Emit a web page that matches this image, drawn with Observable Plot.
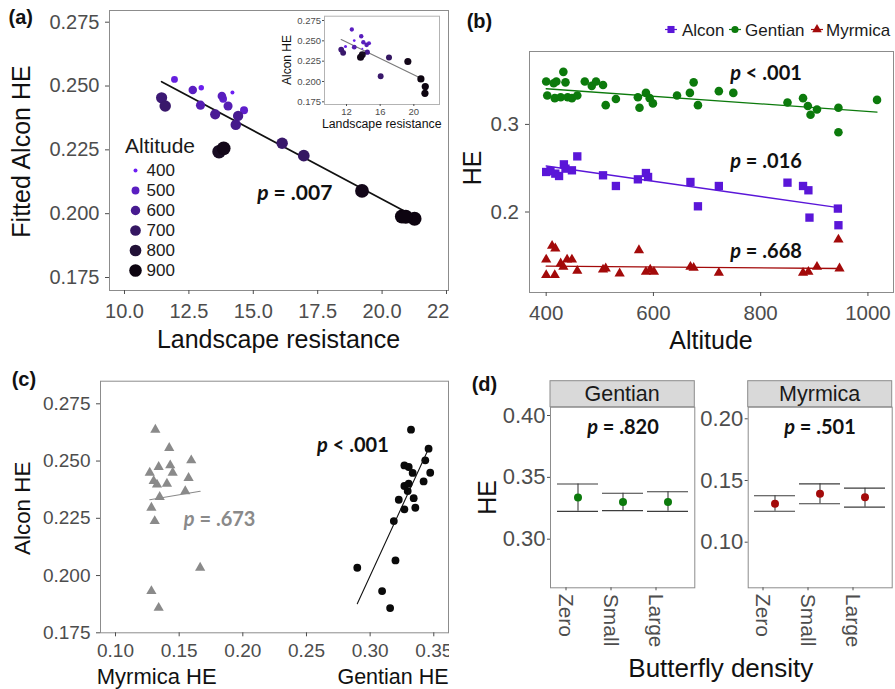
<!DOCTYPE html>
<html><head><meta charset="utf-8">
<script src="https://cdn.jsdelivr.net/npm/d3@7"></script>
<script src="https://cdn.jsdelivr.net/npm/@observablehq/plot@0.6"></script>
<style>
body{margin:0;background:#fff;}
#fig{position:relative;width:895px;height:689px;overflow:hidden;background:#fff;}
</style></head><body><div id="fig"></div>
<script>
// ---------- Panel (a): fitted Alcon HE vs landscape resistance ----------
const resistA = [11.44, 11.58, 11.94, 12.65, 12.98, 12.95, 13.52, 13.78, 13.83, 14.19, 14.02, 14.64, 14.41, 14.32, 13.67, 13.85, 16.12, 16.96, 19.22, 20.77, 20.92, 21.26];
const fittedA = [0.2454, 0.2422, 0.2526, 0.2484, 0.2493, 0.2425, 0.2389, 0.2461, 0.2450, 0.2475, 0.2422, 0.2405, 0.2383, 0.2348, 0.2243, 0.2256, 0.2276, 0.2227, 0.2089, 0.1989, 0.1988, 0.1980];
const altA = [660, 680, 440, 500, 410, 530, 590, 505, 470, 400, 530, 480, 600, 610, 850, 880, 680, 700, 880, 945, 945, 940];
const fitAx = [11.44, 21.26], fitAy = [0.2517, 0.1989];
const xTicksA = [10, 12.5, 15, 17.5, 20, 22.5];
const yTicksA = [0.175, 0.2, 0.225, 0.25, 0.275];
const legendAlts = [400, 500, 600, 700, 800, 900];
const pTextA = ["p = .007"], pXA = [16.61], pYA = [0.2081];

// inset: raw Alcon HE vs landscape resistance
const resistIn = [12.63, 13.75, 12.92, 11.88, 11.37, 11.60, 12.92, 14.00, 14.39, 14.67, 13.88, 14.47, 13.88, 13.67, 17.05, 16.06, 19.29, 20.84, 21.36, 21.32];
const heIn = [0.2639, 0.2557, 0.2504, 0.2430, 0.2393, 0.2352, 0.2422, 0.2483, 0.2451, 0.2471, 0.2402, 0.2360, 0.2328, 0.2299, 0.2294, 0.2064, 0.2245, 0.2032, 0.1937, 0.1855];
const altIn = [500, 510, 410, 420, 650, 680, 540, 505, 530, 480, 400, 600, 850, 880, 700, 680, 880, 945, 945, 940];
const fitInx = [11.37, 20.84], fitIny = [0.2516, 0.2040];
const xTicksIn = [12, 16, 20];
const yTicksIn = [0.175, 0.2, 0.225, 0.25, 0.275];

// ---------- Panel (b): HE vs altitude ----------
const seriesB = ["Alcon", "Gentian", "Myrmica"];
const gentAlt = [400,402,414,416,419,427,432,436,440,448,458,472,485,493,506,511,530,571,574,586,593,599,644,668,675,683,722,749,850,879,888,893,905,945,945,1017];
const gentHE = [0.349,0.333,0.347,0.330,0.349,0.331,0.360,0.348,0.331,0.330,0.333,0.349,0.344,0.349,0.345,0.322,0.329,0.331,0.319,0.336,0.330,0.324,0.333,0.336,0.348,0.322,0.338,0.336,0.325,0.330,0.321,0.311,0.317,0.319,0.291,0.328];
const alconAlt = [400,408,417,424,433,436,448,458,506,530,571,586,590,669,683,722,850,879,889,891,944,945];
const alconHE = [0.2457,0.2468,0.2438,0.2411,0.2544,0.2495,0.2476,0.2635,0.2419,0.2297,0.2373,0.2445,0.2400,0.2343,0.2065,0.2297,0.2335,0.2297,0.2248,0.1936,0.2039,0.1849];
const myrAlt = [400,400,411,417,416,427,432,439,448,458,506,511,537,573,586,594,601,669,675,722,879,889,905,945,947];
const myrHE = [0.1457,0.1279,0.1613,0.1583,0.1279,0.1412,0.1374,0.1457,0.1457,0.1328,0.1343,0.1355,0.1298,0.1564,0.1317,0.1343,0.1317,0.1374,0.1362,0.1305,0.1305,0.1317,0.1374,0.1685,0.1355];
const fitGx = [400, 1017], fitGy = [0.3407, 0.3141];
const fitAlx = [400, 945], fitAly = [0.2525, 0.2050];
const fitMx = [400, 945], fitMy = [0.1381, 0.1355];
const xTicksB = [400, 600, 800, 1000];
const yTicksB = [0.2, 0.3];
const pTextB = ["p < .001", "p = .016", "p = .668"], pXB = [810, 810, 810], pYB = [0.3576, 0.2572, 0.1546];

// ---------- Panel (c): Alcon HE vs host HE ----------
const myrC = [0.1313,0.1422,0.1595,0.1339,0.1430,0.1449,0.1269,0.1574,0.1300,0.1326,0.1404,0.1548,0.1347,0.1282,0.1308,0.1665,0.1282,0.1339];
const alconC_M = [0.2637,0.2557,0.2503,0.2474,0.2481,0.2449,0.2449,0.2426,0.2413,0.2397,0.2401,0.2368,0.2343,0.2296,0.2238,0.2034,0.1932,0.1859];
const gentC = [0.3321,0.3459,0.3433,0.3269,0.3303,0.3334,0.3472,0.3420,0.3269,0.3303,0.3295,0.3342,0.3225,0.3269,0.3355,0.3186,0.3199,0.2899,0.3094,0.3157];
const alconC_G = [0.2637,0.2554,0.2503,0.2481,0.2474,0.2448,0.2449,0.2411,0.2391,0.2401,0.2369,0.2338,0.2331,0.2289,0.2296,0.2238,0.2066,0.2034,0.1932,0.1858];
const fitCMx = [0.1269, 0.1665], fitCMy = [0.2331, 0.2368];
const fitCGx = [0.2899, 0.3465], fitCGy = [0.1877, 0.2561];
const xTicksC = [0.10, 0.15, 0.20, 0.25, 0.30, 0.35];
const yTicksC = [0.175, 0.2, 0.225, 0.25, 0.275];
const pTextC = ["p = .673", "p < .001"], pXC = [0.1818, 0.2865], pYC = [0.2245, 0.2568];

// ---------- Panel (d): HE by butterfly density ----------
const densCats = ["Zero", "Small", "Large"];
const gentMean = [0.3338, 0.3301, 0.3301], gentLo = [0.3225, 0.3231, 0.3225], gentHi = [0.3446, 0.3371, 0.3384];
const myrMean = [0.1311, 0.1392, 0.1365], myrLo = [0.1251, 0.1311, 0.1284], myrHi = [0.1376, 0.1473, 0.1438];
const yTicksDG = [0.30, 0.35, 0.40];
const yTicksDM = [0.10, 0.15, 0.20];
const pTextD = ["p = .820", "p = .501"], pYD = [0.3903, 0.1930];

// ---------- styling ----------
const FONT = '"Liberation Sans", Arial, sans-serif';
const PFONT = 'Lato, "Liberation Sans", sans-serif';
const cAlcon = "#5a16d8", cGent = "#0c7a0c", cMyr = "#a30a0a";
const frameCol = "#8c8c8c", tickCol = "#4d4d4d";
const fig = document.getElementById("fig");
function place(el, left, top) { el.style.position = "absolute"; el.style.left = left + "px"; el.style.top = top + "px"; fig.appendChild(el); }
function st(fs) { return {fontFamily: FONT, fontSize: fs + "px", color: tickCol, background: "transparent", overflow: "hidden"}; }
const altColor = {type: "linear", domain: [400, 900], range: ["#6d1ff4", "#0d0410"], interpolate: "lab", clamp: true};
const f3 = d3.format(".3f"), f2 = d3.format(".2f"), f1 = d3.format(".1f");
const line2 = (xs, ys) => xs.map((x, i) => ({x, y: ys[i]}));

// ---------- (a) main ----------
const A = resistA.map((x, i) => ({x, y: fittedA[i], alt: altA[i]}));
const plotA = Plot.plot({
  width: 449, height: 360, marginLeft: 109, marginRight: 1, marginTop: 10, marginBottom: 70,
  x: {domain: [9.4177, 22.578]}, y: {domain: [0.16991, 0.27958]},
  r: {type: "sqrt", domain: [0, 500], range: [2, 7], clamp: true},
  color: altColor,
  style: st(20),
  marks: [
    Plot.frame({stroke: frameCol}),
    Plot.axisY({ticks: yTicksA, tickFormat: f3, tickSize: 4, tickPadding: 6, label: null}),
    Plot.axisX({ticks: xTicksA, tickFormat: f1, tickSize: 4, tickPadding: 9.5, label: null}),
    Plot.line(line2(fitAx, fitAy), {x: "x", y: "y", stroke: "#111", strokeWidth: 1.7}),
    Plot.dot(A, {x: "x", y: "y", r: d => d.alt - 400, fill: "alt", sort: {channel: "r"}}),
    Plot.text(pTextA, {x: (d, i) => pXA[i], y: (d, i) => pYA[i], text: d => d, fontSize: 21, fontWeight: "bold", fontFamily: PFONT, fill: "#111"})
  ]
});
place(plotA, 0, 0);

// legend of (a)
const legA = Plot.plot({
  width: 70, height: 145, margin: 0,
  x: {domain: [0, 1], range: [15, 26], axis: null},
  y: {type: "point", domain: legendAlts, range: [29, 130], padding: 0, axis: null},
  r: {type: "sqrt", domain: [0, 500], range: [2, 6.3], clamp: true},
  color: altColor,
  style: st(17),
  marks: [
    Plot.dot(legendAlts, {x: () => 0, y: d => d, r: d => d - 400, fill: d => d}),
    Plot.text(legendAlts, {x: () => 1, y: d => d, text: d => String(d), textAnchor: "start", fill: "#1a1a1a", fontSize: 17})
  ]
});
place(legA, 120, 140);

// inset of (a)
const In = resistIn.map((x, i) => ({x, y: heIn[i], alt: altIn[i]}));
const plotIn = Plot.plot({
  width: 165, height: 125, marginLeft: 44, marginRight: 6, marginTop: 7.7, marginBottom: 29,
  x: {domain: [9.385, 23.05]}, y: {domain: [0.1717, 0.2803]},
  r: {type: "sqrt", domain: [0, 500], range: [1, 3.6], clamp: true},
  color: altColor,
  style: st(9.5),
  marks: [
    Plot.frame({stroke: "#b3b3b3", fill: "white"}),
    Plot.axisY({ticks: yTicksIn, tickFormat: f3, tickSize: 2, tickPadding: 1.5, label: null}),
    Plot.axisX({ticks: xTicksIn, tickFormat: d3.format("d"), tickSize: 2, tickPadding: 2, label: null}),
    Plot.line(line2(fitInx, fitIny), {x: "x", y: "y", stroke: "#7a7a7a", strokeWidth: 1.2}),
    Plot.dot(In, {x: "x", y: "y", r: d => d.alt - 400, fill: "alt", sort: {channel: "r"}})
  ]
});
plotIn.style.overflow = "visible";
place(plotIn, 280, 8);

// ---------- (b) ----------
const G = gentAlt.map((x, i) => ({x, y: gentHE[i]}));
const Al = alconAlt.map((x, i) => ({x, y: alconHE[i]}));
const M = myrAlt.map((x, i) => ({x, y: myrHE[i]}));
const plotB = Plot.plot({
  width: 445, height: 360, marginLeft: 79, marginRight: 2, marginTop: 51, marginBottom: 68,
  x: {domain: [368.88, 1047.7]}, y: {domain: [0.1081, 0.38324]},
  style: st(20.5),
  marks: [
    Plot.frame({stroke: frameCol}),
    Plot.axisY({ticks: yTicksB, tickFormat: f1, tickSize: 4, tickPadding: 6.5, label: null}),
    Plot.axisX({ticks: xTicksB, tickFormat: d3.format("d"), tickSize: 4, tickPadding: 8.5, label: null}),
    Plot.dot(G, {x: "x", y: "y", r: 4.3, fill: cGent, symbol: "circle"}),
    Plot.dot(Al, {x: "x", y: "y", r: 4.7, fill: cAlcon, symbol: "square"}),
    Plot.dot(M, {x: "x", y: "y", r: 3.8, fill: cMyr, symbol: "triangle"}),
    Plot.line(line2(fitGx, fitGy), {x: "x", y: "y", stroke: cGent, strokeWidth: 1.3}),
    Plot.line(line2(fitAlx, fitAly), {x: "x", y: "y", stroke: cAlcon, strokeWidth: 1.3}),
    Plot.line(line2(fitMx, fitMy), {x: "x", y: "y", stroke: cMyr, strokeWidth: 1.3}),
    Plot.text(pTextB, {x: (d, i) => pXB[i], y: (d, i) => pYB[i], text: d => d, fontSize: 20, fontWeight: "bold", fontFamily: PFONT, fill: "#111"})
  ]
});
place(plotB, 450, 0);

// ---------- (c) ----------
const CM = myrC.map((x, i) => ({x, y: alconC_M[i]}));
const CG = gentC.map((x, i) => ({x, y: alconC_G[i]}));
const plotC = Plot.plot({
  width: 449, height: 349, marginLeft: 100, marginRight: 1, marginTop: 40.7, marginBottom: 56.7,
  x: {domain: [0.08822, 0.36155]}, y: {domain: [0.175, 0.28487]},
  style: st(19),
  marks: [
    Plot.frame({stroke: frameCol}),
    Plot.axisY({ticks: yTicksC, tickFormat: f3, tickSize: 4, tickPadding: 6, label: null}),
    Plot.axisX({ticks: xTicksC, tickFormat: f2, tickSize: 4, tickPadding: 6.5, label: null}),
    Plot.dot(CM, {x: "x", y: "y", r: 3.8, fill: "#8a8a8a", symbol: "triangle"}),
    Plot.dot(CG, {x: "x", y: "y", r: 3.9, fill: "#0a0a0a"}),
    Plot.line(line2(fitCMx, fitCMy), {x: "x", y: "y", stroke: "#8a8a8a", strokeWidth: 1.1}),
    Plot.line(line2(fitCGx, fitCGy), {x: "x", y: "y", stroke: "#111", strokeWidth: 1.1}),
    Plot.text(pTextC, {x: (d, i) => pXC[i], y: (d, i) => pYC[i], text: d => d, fontSize: 20, fontWeight: "bold", fontFamily: PFONT, fill: (d, i) => i === 0 ? "#8a8a8a" : "#111"})
  ]
});
place(plotC, 0, 340);

// ---------- (d) ----------
function densPlot(mean, lo, hi, col, yDomain, yTicks, ptext, py, w, mL, mR) {
  const D = densCats.map((c, i) => ({c, m: mean[i], lo: lo[i], hi: hi[i]}));
  return Plot.plot({
    width: w, height: 319, marginLeft: mL, marginRight: mR, marginTop: 36.7, marginBottom: 101.7,
    x: {type: "band", domain: densCats, paddingInner: 0.1, paddingOuter: 0.15},
    y: {domain: yDomain},
    style: st(22),
    marks: [
      Plot.frame({stroke: frameCol}),
      Plot.axisY({ticks: yTicks, tickFormat: f2, tickSize: 3, tickPadding: 2, label: null}),
      Plot.axisX({tickRotate: 90, tickSize: 3, tickPadding: 3, dx: -12, fontSize: 21, label: null}),
      Plot.ruleX(D, {x: "c", y1: "lo", y2: "hi", stroke: "#3d3d3d", strokeWidth: 1.1}),
      Plot.tickY(D, {x: "c", y: "hi", stroke: "#3d3d3d", strokeWidth: 1.1}),
      Plot.tickY(D, {x: "c", y: "lo", stroke: "#3d3d3d", strokeWidth: 1.1}),
      Plot.dot(D, {x: "c", y: "m", r: 4, fill: col}),
      Plot.text([ptext], {x: () => "Small", y: () => py, text: d => d, fontSize: 20, fontWeight: "bold", fontFamily: PFONT, fill: "#111"})
    ]
  });
}
const plotDG = densPlot(gentMean, gentLo, gentHi, cGent, [0.26071, 0.40671], yTicksDG, pTextD[0], pYD[0], 220, 70, 5.7);
place(plotDG, 480, 370);
const plotDM = densPlot(myrMean, myrLo, myrHi, cMyr, [0.06305, 0.2094], yTicksDM, pTextD[1], pYD[1], 205, 57.7, 3.3);
place(plotDM, 690, 370);

// italic "p" in p-value labels
d3.selectAll("#fig svg text").each(function () {
  const t = this.textContent;
  if (/^p [<=]/.test(t)) {
    this.textContent = "";
    d3.select(this).append("tspan").attr("font-style", "italic").text("p");
    d3.select(this).append("tspan").text(t.slice(1));
  }
});

// ---------- overlay: titles, panel labels, strips, legend (b) ----------
const ov = d3.create("svg").attr("width", 895).attr("height", 689)
  .style("position", "absolute").style("left", "0px").style("top", "0px")
  .attr("font-family", FONT);
function txt(x, y, s, o = {}) {
  const t = ov.append("text").text(s)
    .attr("font-size", o.size || 20).attr("fill", o.fill || "#111")
    .attr("text-anchor", o.anchor || "middle")
    .attr("font-weight", o.weight || "normal");
  if (o.family) t.attr("font-family", o.family);
  if (o.rotate) t.attr("transform", `translate(${x},${y}) rotate(-90)`).attr("dy", "0.36em");
  else t.attr("x", x).attr("y", y);
  return t;
}
// panel labels
txt(8.5, 24.3, "(a)", {size: 20, weight: "bold", anchor: "start"});
txt(466.7, 27.5, "(b)", {size: 20, weight: "bold", anchor: "start"});
txt(11.7, 386, "(c)", {size: 20, weight: "bold", anchor: "start"});
txt(471.7, 391, "(d)", {size: 20, weight: "bold", anchor: "start"});
// (a)
txt(20.8, 151.5, "Fitted Alcon HE", {size: 25, rotate: true});
txt(278.5, 348, "Landscape resistance", {size: 25});
txt(125, 153, "Altitude", {size: 21, anchor: "start", fill: "#1a1a1a"});
txt(286.7, 60, "Alcon HE", {size: 12, rotate: true});
txt(381.7, 128, "Landscape resistance", {size: 12.3});
// (b)
txt(471.5, 168, "HE", {size: 25, rotate: true});
txt(711, 349, "Altitude", {size: 25});
const legB = [
  {name: seriesB[0], col: cAlcon, sym: d3.symbolSquare, size: 50, cx: 671, tx: 682},
  {name: seriesB[1], col: cGent, sym: d3.symbolCircle, size: 40, cx: 735, tx: 745},
  {name: seriesB[2], col: cMyr, sym: d3.symbolTriangle, size: 40, cx: 817, tx: 826}
];
for (const l of legB) {
  ov.append("line").attr("x1", l.cx - 6).attr("x2", l.cx + 6).attr("y1", 29.5).attr("y2", 29.5).attr("stroke", l.col).attr("stroke-width", 1.2);
  ov.append("path").attr("d", d3.symbol(l.sym, l.size)()).attr("transform", `translate(${l.cx},29.5)`).attr("fill", l.col);
  txt(l.tx, 35.5, l.name, {size: 17, anchor: "start", fill: "#1a1a1a"});
}
// (c)
txt(22, 508.3, "Alcon HE", {size: 22.4, rotate: true});
txt(156.7, 684, "Myrmica HE", {size: 22});
txt(393, 684, "Gentian HE", {size: 21.5});
// (d) strips and titles
for (const s of [{x0: 550, x1: 694.3, name: "Gentian"}, {x0: 747.7, x1: 891.7, name: "Myrmica"}]) {
  ov.append("rect").attr("x", s.x0).attr("y", 380.7).attr("width", s.x1 - s.x0).attr("height", 26).attr("fill", "#d9d9d9").attr("stroke", frameCol);
  txt((s.x0 + s.x1) / 2, 401.3, s.name, {size: 21.5, fill: "#1a1a1a"});
}
txt(486.5, 497.5, "HE", {size: 25, rotate: true});
txt(720.8, 677, "Butterfly density", {size: 26});
fig.appendChild(ov.node());
</script></body></html>
